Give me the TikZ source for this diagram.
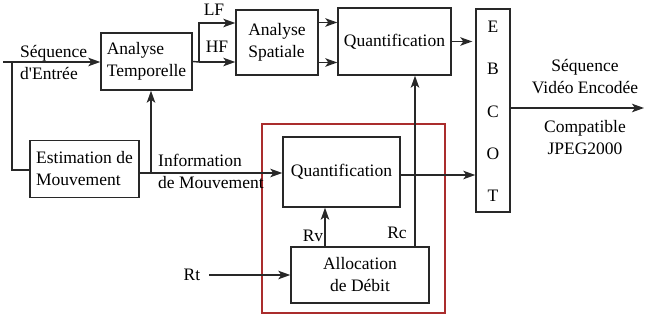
\documentclass[tikz,border=0pt]{standalone}
\usepackage{fontspec}
\setmainfont{Liberation Serif}
\newfontfamily\plainfont{Liberation Serif}[Ligatures=TeXOff]
\usetikzlibrary{arrows.meta}
\definecolor{ln}{RGB}{40,40,40}
\definecolor{rb}{RGB}{170,45,45}
\begin{document}
\begin{tikzpicture}[x=1pt,y=-1pt,
  every node/.style={font=\fontsize{17.5}{22}\selectfont, text=black},
  blk/.style={draw=ln, line width=1.4pt, inner sep=0pt},
  arr/.style={draw=ln, line width=1.4pt, -{Stealth[length=12pt,width=8.5pt,inset=3pt]}},
  ln/.style={draw=ln, line width=1.4pt},
  lbl/.style={inner sep=0pt}]
\useasboundingbox (0,0) rectangle (645,320);
% red frame
\node (red) [draw=rb, line width=1.2pt, minimum width=183pt, minimum height=189pt, inner sep=0pt] at (353.5,218.5) {};
% blocks
\node (AT) [blk, minimum width=91pt, minimum height=57pt, align=left] at (146.5,61.5) {Analyse\\Temporelle};
\node (AS) [blk, minimum width=82pt, minimum height=65pt, align=left] at (277,42.5) {Analyse\\Spatiale};
\node (Q1) [blk, minimum width=113pt, minimum height=67pt] at (394.5,41.5) {Quantification};
\node (EB) [blk, minimum width=34pt, minimum height=203pt] at (493,110.5) {};
\node[lbl] (e1) at (493,27) {E};
\node[lbl] (e2) at (493,69) {B};
\node[lbl] (e3) at (493,112) {C};
\node[lbl] (e4) at (493,154) {O};
\node[lbl] (e5) at (493,196) {T};
\node (EST) [blk, minimum width=109pt, minimum height=57pt, align=left] at (84.5,169) {Estimation de\\Mouvement};
\node (Q2) [blk, minimum width=117pt, minimum height=70pt] at (341.5,172) {Quantification};
\node (AL) [blk, minimum width=138pt, minimum height=56pt, align=center] at (360,275) {Allocation\\de Débit};
% labels
\node[lbl, align=left, anchor=west] (lin) at (20,63) {Séquence\\{\plainfont d'Entrée}};
\node[lbl] (lf) at (214,10) {LF};
\node[lbl] (hf) at (217,47) {HF};
\node[lbl, align=left, anchor=west] (lim) at (158,171) {Information\\de Mouvement};
\node[lbl] (lrv) at (313,236) {Rv};
\node[lbl] (lrc) at (397,233) {Rc};
\node[lbl] (rt) at (192,275) {Rt};
\node[lbl, align=center] (lout1) at (585,77) {Séquence\\Vidéo Encodée};
\node[lbl, align=center] (lout2) at (585,138) {Compatible\\JPEG2000};
% coordinates
\coordinate (in) at (3,62);
\coordinate (br) at (12,62);
\coordinate (sp) at (199,62);
\coordinate (mv) at (151,173);
\coordinate (out) at (644,108);
% connectors
\draw[arr] (in) -- (AT.west |- in);
\draw[ln] (br) |- (EST.west |- 0,170);
\draw[ln] (AT.east) -- (sp);
\draw[arr] (sp) |- ([yshift=19.5pt]AS.west);
\draw[arr] (sp) -- (AS.west |- sp);
\draw[arr] ([yshift=20pt]AS.east) -- (Q1.west |- 0,22.5);
\draw[arr] ([yshift=-20pt]AS.east) -- (Q1.west |- 0,62.5);
\draw[arr] (Q1.east) -- ([xshift=-3pt]EB.west |- Q1.east);
\draw[arr] (EST.east |- mv) -- (Q2.west |- mv);
\draw[arr] (mv) -- (mv |- AT.south);
\draw[arr] (Q2.east |- 0,175) -- (EB.west |- 0,175);
\draw[arr] (EB.east |- out) -- (out);
\draw[arr] ([xshift=-35pt]AL.north) -- ([xshift=-16.5pt]Q2.south);
\draw[arr] ([xshift=55pt]AL.north) -- (Q1.south -| 415,0);
\draw[arr] ([xshift=9pt]rt.east) -- (AL.west);
\end{tikzpicture}
\end{document}
